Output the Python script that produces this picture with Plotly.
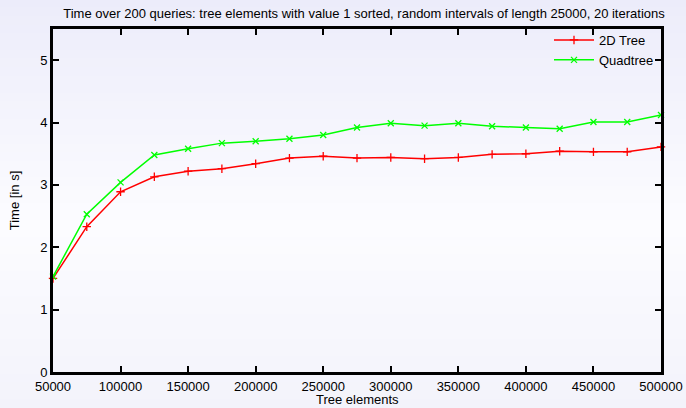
import plotly.graph_objects as go

# Benchmark results: query time vs. number of tree elements
tree_elements = [50000, 75000, 100000, 125000, 150000, 175000, 200000, 225000,
                 250000, 275000, 300000, 325000, 350000, 375000, 400000, 425000,
                 450000, 475000, 500000]
time_2d_tree = [1.50, 2.33, 2.89, 3.13, 3.22, 3.26, 3.34, 3.43, 3.46, 3.43,
                3.44, 3.42, 3.44, 3.49, 3.50, 3.54, 3.53, 3.53, 3.61]
time_quadtree = [1.53, 2.53, 3.04, 3.48, 3.58, 3.67, 3.70, 3.74, 3.80, 3.92,
                 3.99, 3.95, 3.99, 3.94, 3.92, 3.90, 4.01, 4.01, 4.12]
x_ticks = [50000, 100000, 150000, 200000, 250000, 300000, 350000, 400000,
           450000, 500000]
y_ticks = [0, 1, 2, 3, 4, 5]

W, H = 686, 408
ML, MR, MT, MB = 53, 25, 29, 36
PW, PH = W - ML - MR, H - MT - MB
FONT = "Liberation Sans, Arial, Helvetica, sans-serif"

fig = go.Figure()
fig.add_trace(go.Scatter(
    x=tree_elements, y=time_2d_tree, name="2D Tree", mode="lines+markers",
    line=dict(color="#ff0000", width=1.5),
    marker=dict(symbol="cross-thin-open", size=6,
                line=dict(color="#ff0000", width=1.3)),
    cliponaxis=False,
))
fig.add_trace(go.Scatter(
    x=tree_elements, y=time_quadtree, name="Quadtree", mode="lines+markers",
    line=dict(color="#00ff00", width=1.5),
    marker=dict(symbol="x-thin-open", size=6,
                line=dict(color="#00ff00", width=1.3)),
    cliponaxis=False,
))

# soft vertical background gradient spanning the whole canvas
def lerp(a, b, t):
    return tuple(round(a[i] + (b[i] - a[i]) * t) for i in range(3))

top_c, mid_c, bot_c = (236, 236, 250), (252, 252, 255), (243, 243, 251)
n_bands = 48
shapes = []
for i in range(n_bands):
    f0 = i / n_bands
    f1 = (i + 1) / n_bands
    fc = (f0 + f1) / 2
    if fc < 0.55:
        c = lerp(top_c, mid_c, fc / 0.55)
    else:
        c = lerp(mid_c, bot_c, (fc - 0.55) / 0.45)
    py0 = H - f1 * H
    py1 = H - f0 * H
    shapes.append(dict(
        type="rect", layer="below", xref="paper", yref="paper",
        x0=-ML / PW, x1=1 + MR / PW,
        y0=(py0 - MB) / PH, y1=(py1 - MB) / PH + 0.002,
        fillcolor="rgb(%d,%d,%d)" % c, line=dict(width=0),
    ))

axis_common = dict(
    showline=True, linecolor="black", linewidth=2.8, mirror="ticks",
    ticks="inside", ticklen=6, tickwidth=2, tickcolor="black",
    showgrid=False, zeroline=False,
    tickfont=dict(family=FONT, size=13, color="black"),
)

fig.update_layout(
    width=W, height=H,
    margin=dict(l=ML, r=MR, t=MT, b=MB, autoexpand=False),
    paper_bgcolor="rgb(246,246,252)",
    plot_bgcolor="rgba(0,0,0,0)",
    font=dict(family=FONT, size=13, color="black"),
    shapes=shapes,
    title=dict(
        text="Time over 200 queries: tree elements with value 1 sorted, "
             "random intervals of length 25000, 20 iterations",
        x=0.5 + 7 / PW, xref="paper", y=1 - 13 / H, yref="container",
        xanchor="center", yanchor="middle",
        font=dict(family=FONT, size=13, color="black"),
    ),
    # x-axis title sits at the very bottom of the canvas, below the tick labels
    annotations=[dict(
        text="Tree elements", xref="paper", yref="paper",
        x=0.5, y=-(408 - (H - MB)) / PH, xanchor="center", yanchor="bottom",
        borderpad=0, showarrow=False,
        font=dict(family=FONT, size=13, color="black"),
    )],
    xaxis=dict(
        range=[50000, 500000], tickvals=x_ticks,
        ticktext=[str(v) for v in x_ticks],
        automargin=False, **axis_common,
    ),
    yaxis=dict(
        range=[0, 5.5], tickvals=y_ticks,
        title=dict(text="Time [in s]", standoff=18,
                   font=dict(family=FONT, size=13)),
        automargin=False, **axis_common,
    ),
    legend=dict(
        x=1 - 2 / PW, y=1 + 4 / PH, xanchor="right", yanchor="top",
        bgcolor="rgba(0,0,0,0)", borderwidth=0,
        font=dict(family=FONT, size=13, color="black"),
        tracegroupgap=0, itemwidth=40,
    ),
    showlegend=True,
)

fig.write_html("out.html")
